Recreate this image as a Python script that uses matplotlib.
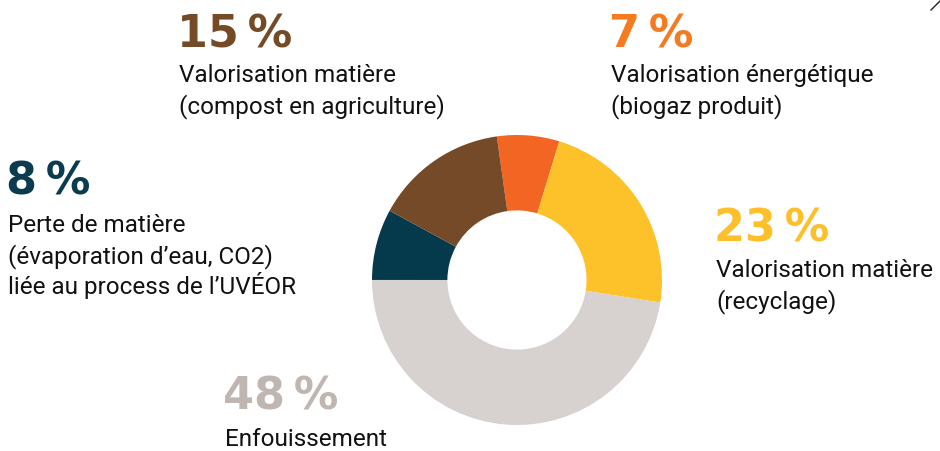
import matplotlib
matplotlib.use("Agg")
import matplotlib.pyplot as plt

W, H = 940, 452

# data, clockwise from the top
shares = [7, 23, 48, 8, 15]
slice_colors = ["#F26522", "#FDC12A", "#D7D1CF", "#053A4D", "#744A28"]
percent_labels = ["7\u2009%", "23\u2009%", "48\u2009%", "8\u2009%", "15\u2009%"]
number_colors = ["#F47B20", "#FDBF2A", "#BFB5B1", "#0B3B4F", "#754A26"]
descriptions = [
    ["Valorisation énergétique", "(biogaz produit)"],
    ["Valorisation matière", "(recyclage)"],
    ["Enfouissement"],
    ["Perte de matière", "(évaporation d’eau, CO2)", "liée au process de l’UVÉOR"],
    ["Valorisation matière", "(compost en agriculture)"],
]

# label anchor (pixels): left x, baseline of the big number, baseline of first text line
anchors = [(611, 48, 82), (716, 242, 277), (225, 410, 446), (8, 195, 232), (179, 48, 82)]
line_step = 31

fig = plt.figure(figsize=(W / 100, H / 100), dpi=100)

# donut centred at (517, 281) with outer radius 145 px
cx, cy, r = 517, 281, 145
ax = fig.add_axes([(cx - r) / W, (H - cy - r) / H, 2 * r / W, 2 * r / H])
ax.pie(shares, colors=slice_colors, startangle=98, counterclock=False,
       radius=1, wedgeprops=dict(width=0.52, linewidth=0))
ax.set_xlim(-1, 1)
ax.set_ylim(-1, 1)
ax.set_aspect("equal")
ax.axis("off")


def px(x, y):
    return x / W, 1 - y / H


for label, col, desc, (x, yn, yt) in zip(percent_labels, number_colors, descriptions, anchors):
    fig.text(*px(x - 2, yn), label, color=col, fontsize=32, fontweight="bold",
             family=["DejaVu Sans"], va="baseline", ha="left")
    for i, line in enumerate(desc):
        fig.text(*px(x, yt + i * line_step), line, color="#111111", fontsize=17.5,
                 family=["Roboto", "DejaVu Sans"], va="baseline", ha="left")

# small stroke in the top right corner
fig.add_artist(plt.Line2D([931 / W, 940 / W], [1 - 11 / H, 1 - 2 / H],
                          color="#222222", linewidth=1))

fig.savefig("out.png", dpi=100)
